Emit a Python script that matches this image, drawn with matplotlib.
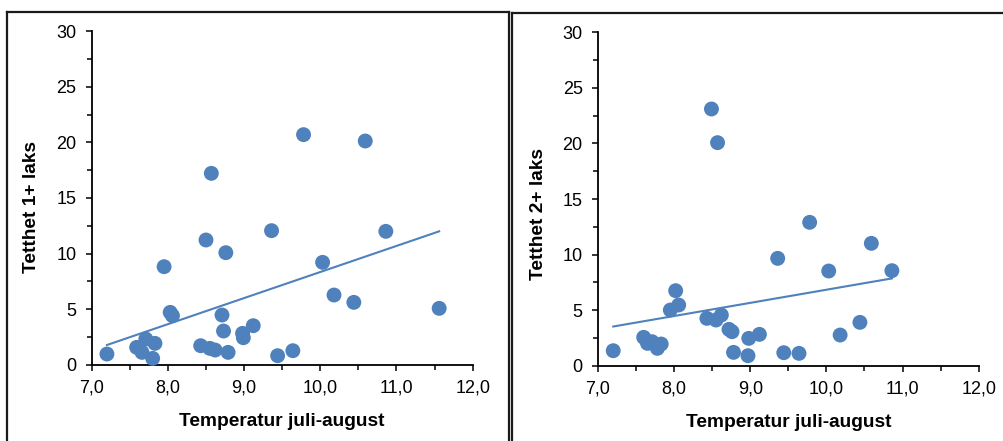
import numpy as np
import matplotlib
matplotlib.use("Agg")
import matplotlib.pyplot as plt
from matplotlib.ticker import MultipleLocator, FuncFormatter
from matplotlib.lines import Line2D

plt.rcParams['font.family'] = ['Liberation Sans', 'DejaVu Sans']

# Left panel: Tetthet 1+ laks
temp_1 = [7.20, 7.59, 7.66, 7.71, 7.80, 7.83, 7.95, 8.03, 8.06, 8.43, 8.50,
          8.55, 8.57, 8.62, 8.71, 8.73, 8.76, 8.79, 8.98, 8.99, 9.12, 9.36,
          9.44, 9.64, 9.78, 10.03, 10.18, 10.44, 10.59, 10.86, 11.56]
dens_1 = [0.96, 1.56, 1.11, 2.31, 0.57, 1.92, 8.82, 4.71, 4.41, 1.71, 11.22,
          1.47, 17.22, 1.32, 4.47, 3.03, 10.08, 1.11, 2.82, 2.43, 3.51, 12.06,
          0.81, 1.26, 20.70, 9.21, 6.27, 5.61, 20.13, 12.00, 5.07]

# Right panel: Tetthet 2+ laks
temp_2 = [7.20, 7.60, 7.65, 7.71, 7.78, 7.83, 7.95, 8.02, 8.06, 8.43, 8.49,
          8.55, 8.57, 8.62, 8.72, 8.76, 8.78, 8.97, 8.98, 9.12, 9.36, 9.44,
          9.64, 9.78, 10.03, 10.18, 10.44, 10.59, 10.86]
dens_2 = [1.35, 2.55, 2.01, 2.16, 1.56, 1.95, 5.01, 6.75, 5.46, 4.26, 23.10,
          4.11, 20.07, 4.56, 3.27, 3.06, 1.20, 0.90, 2.46, 2.82, 9.66, 1.17,
          1.11, 12.90, 8.52, 2.76, 3.90, 11.01, 8.55]

x_label = "Temperatur juli-august"
y_labels = ["Tetthet 1+ laks", "Tetthet 2+ laks"]

BLUE = "#4F81BD"

fig = plt.figure(figsize=(10.04, 4.41), dpi=100)
W, H = 1004, 441

ax1 = fig.add_axes([91.7 / W, 1 - 364.7 / H, 381 / W, 333.4 / H])
ax2 = fig.add_axes([598 / W, 1 - 365.7 / H, 380.7 / W, 333.4 / H])

comma = FuncFormatter(lambda v, p: f"{v:.1f}".replace(".", ","))

for ax, xs, ys, yl, ylab_y in [(ax1, temp_1, dens_1, y_labels[0], 0.473),
                               (ax2, temp_2, dens_2, y_labels[1], 0.455)]:
    xs = np.array(xs)
    ys = np.array(ys)
    ax.scatter(xs, ys, s=115, color=BLUE, edgecolors='none', zorder=3, clip_on=False)
    k, b = np.polyfit(xs, ys, 1)
    xl = np.array([xs.min(), xs.max()])
    ax.plot(xl, k * xl + b, color=BLUE, lw=1.5, zorder=2)
    ax.set_xlim(7.0, 12.0)
    ax.set_ylim(0, 30)
    ax.xaxis.set_major_locator(MultipleLocator(1.0))
    ax.xaxis.set_minor_locator(MultipleLocator(0.5))
    ax.yaxis.set_major_locator(MultipleLocator(5))
    ax.yaxis.set_minor_locator(MultipleLocator(2.5))
    ax.xaxis.set_major_formatter(comma)
    for s in ['top', 'right']:
        ax.spines[s].set_visible(False)
    for s in ['left', 'bottom']:
        ax.spines[s].set_linewidth(1.3)
        ax.spines[s].set_color('black')
    ax.tick_params(which='major', direction='out', length=4, width=1.1,
                   labelsize=13, pad=7, colors='black')
    ax.tick_params(which='minor', direction='out', length=3.5, width=1.1)
    ax.set_xlabel(x_label, fontsize=13.8, fontweight='bold')
    ax.set_ylabel(yl, fontsize=13.8, fontweight='bold')
    ax.xaxis.set_label_coords(0.5, -0.145)
    ax.yaxis.set_label_coords(-0.135, ylab_y)

# Chart-area frames
def fline(x0, y0, x1, y1):
    fig.add_artist(Line2D([x0 / W, x1 / W], [1 - y0 / H, 1 - y1 / H],
                          color='#1a1a1a', lw=1.6, transform=fig.transFigure))

fline(6.5, 12, 6.5, 445)
fline(6.5, 12, 509.5, 12)
fline(509.5, 12, 509.5, 445)
fline(512.5, 13, 512.5, 445)
fline(512.5, 13, 1010, 13)

fig.savefig("out.png", dpi=100)
